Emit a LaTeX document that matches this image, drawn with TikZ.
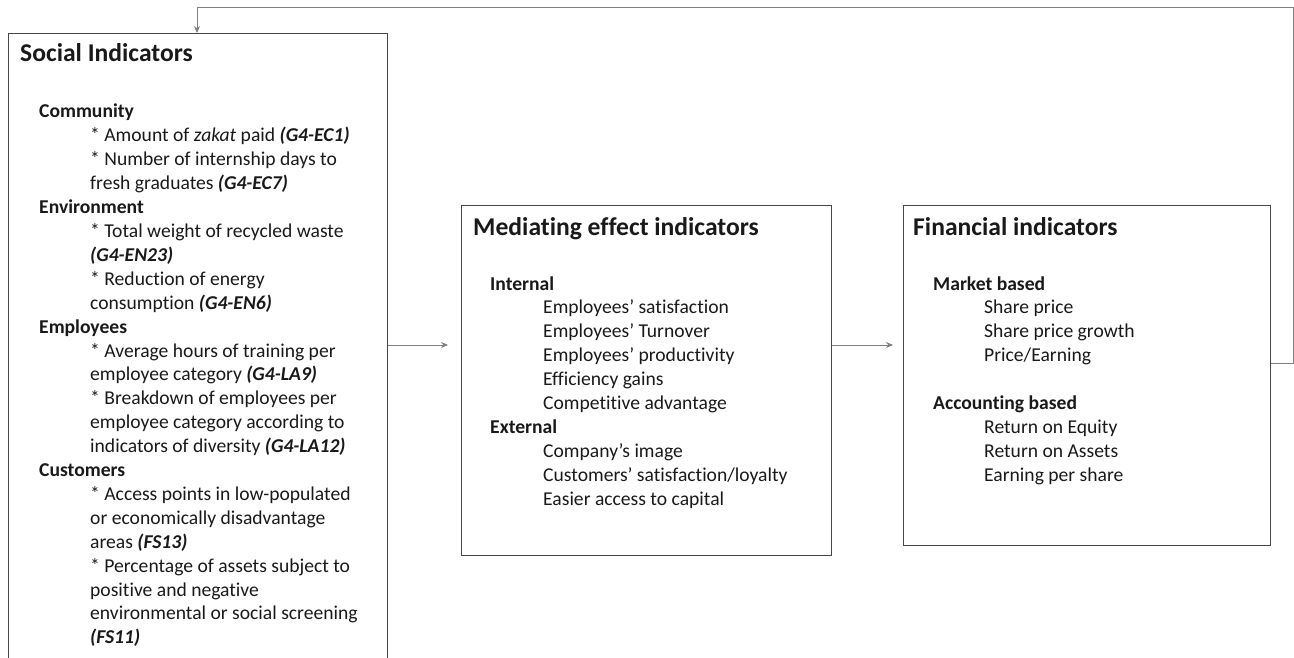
\documentclass[tikz,border=0pt]{standalone}
\usepackage{fontspec}
\setmainfont{Carlito}[RawFeature=-liga, RawFeature=-clig, RawFeature=-calt, RawFeature=-dlig]
\usetikzlibrary{arrows.meta}

\tikzset{
  box/.style={draw=black!72, line width=0.9pt, rectangle, inner sep=0pt},
  conn/.style={draw=black!50, line width=0.8pt},
  arr/.style={conn, -{Stealth[length=7pt,width=6pt]}},
  ttl/.style={anchor=base west, inner sep=0pt, text=black!90,
    font=\fontsize{25.6}{30}\selectfont\bfseries},
  hd/.style={anchor=base west, inner sep=0pt, text=black!90,
    font=\fontsize{19.6}{23.9}\selectfont\bfseries},
  it/.style={anchor=base west, inner sep=0pt, text=black!90,
    font=\fontsize{19.6}{23.9}\selectfont},
}
\newcommand{\code}[1]{\textbf{\textit{#1}}}

\begin{document}
\begin{tikzpicture}[x=1pt,y=-1pt]
\useasboundingbox (0,0) rectangle (1294,658);
\clip (0,0) rectangle (1294,658);

% boxes
\node[box, minimum width=379pt, minimum height=700pt, anchor=north west] (soc) at (8,33) {};
\node[box, minimum width=370pt, minimum height=350pt, anchor=north west] (med) at (461,205) {};
\node[box, minimum width=367pt, minimum height=340pt, anchor=north west] (fin) at (903,205) {};

% social indicators
\node[ttl] (sT) at (20,62) {Social Indicators};
\node[hd] (s0)  at (39,118+23.9*0)  {Community};
\node[it] (s1)  at (90,118+23.9*1)  {* Amount of \textit{zakat} paid \code{(G4-EC1)}};
\node[it] (s2)  at (90,118+23.9*2)  {* Number of internship days to};
\node[it] (s3)  at (90,118+23.9*3)  {fresh graduates \code{(G4-EC7)}};
\node[hd] (s4)  at (39,118+23.9*4)  {Environment};
\node[it] (s5)  at (90,118+23.9*5)  {* Total weight of recycled waste};
\node[it] (s6)  at (90,118+23.9*6)  {\code{(G4-EN23)}};
\node[it] (s7)  at (90,118+23.9*7)  {* Reduction of energy};
\node[it] (s8)  at (90,118+23.9*8)  {consumption \code{(G4-EN6)}};
\node[hd] (s9)  at (39,118+23.9*9)  {Employees};
\node[it] (s10) at (90,118+23.9*10) {* Average hours of training per};
\node[it] (s11) at (90,118+23.9*11) {employee category \code{(G4-LA9)}};
\node[it] (s12) at (90,118+23.9*12) {* Breakdown of employees per};
\node[it] (s13) at (90,118+23.9*13) {employee category according to};
\node[it] (s14) at (90,118+23.9*14) {indicators of diversity \code{(G4-LA12)}};
\node[hd] (s15) at (39,118+23.9*15) {Customers};
\node[it] (s16) at (90,118+23.9*16) {* Access points in low-populated};
\node[it] (s17) at (90,118+23.9*17) {or economically disadvantage};
\node[it] (s18) at (90,118+23.9*18) {areas \code{(FS13)}};
\node[it] (s19) at (90,118+23.9*19) {* Percentage of assets subject to};
\node[it] (s20) at (90,118+23.9*20) {positive and negative};
\node[it] (s21) at (90,118+23.9*21) {environmental or social screening};
\node[it] (s22) at (90,118+23.9*22) {\code{(FS11)}};

% mediating effect indicators
\node[ttl] (mT) at (473,235) {Mediating effect indicators};
\node[hd] (m0) at (490,290+23.9*0) {Internal};
\node[it] (m1) at (543,290+23.9*1) {Employees’ satisfaction};
\node[it] (m2) at (543,290+23.9*2) {Employees’ Turnover};
\node[it] (m3) at (543,290+23.9*3) {Employees’ productivity};
\node[it] (m4) at (543,290+23.9*4) {Efficiency gains};
\node[it] (m5) at (543,290+23.9*5) {Competitive advantage};
\node[hd] (m6) at (490,290+23.9*6) {External};
\node[it] (m7) at (543,290+23.9*7) {Company’s image};
\node[it] (m8) at (543,290+23.9*8) {Customers’ satisfaction/loyalty};
\node[it] (m9) at (543,290+23.9*9) {Easier access to capital};

% financial indicators
\node[ttl] (fT) at (913,235) {Financial indicators};
\node[hd] (f0) at (933,290+23.9*0) {Market based};
\node[it] (f1) at (984,290+23.9*1) {Share price};
\node[it] (f2) at (984,290+23.9*2) {Share price growth};
\node[it] (f3) at (984,290+23.9*3) {Price/Earning};
\node[hd] (f5) at (933,290+23.9*5) {Accounting based};
\node[it] (f6) at (984,290+23.9*6) {Return on Equity};
\node[it] (f7) at (984,290+23.9*7) {Return on Assets};
\node[it] (f8) at (984,290+23.9*8) {Earning per share};

% connectors
\coordinate (row) at (0,345);
\coordinate (loop) at (0,363);
\coordinate (topy) at (197,7);
\draw[arr, shorten >=13pt] (soc.east |- row) -- (med.west |- row);
\draw[arr, shorten >=10pt] (med.east |- row) -- (fin.west |- row);
\draw[arr] (fin.east |- loop) -- ++(22,0) |- (topy) -- (soc.north -| topy);
\end{tikzpicture}
\end{document}
